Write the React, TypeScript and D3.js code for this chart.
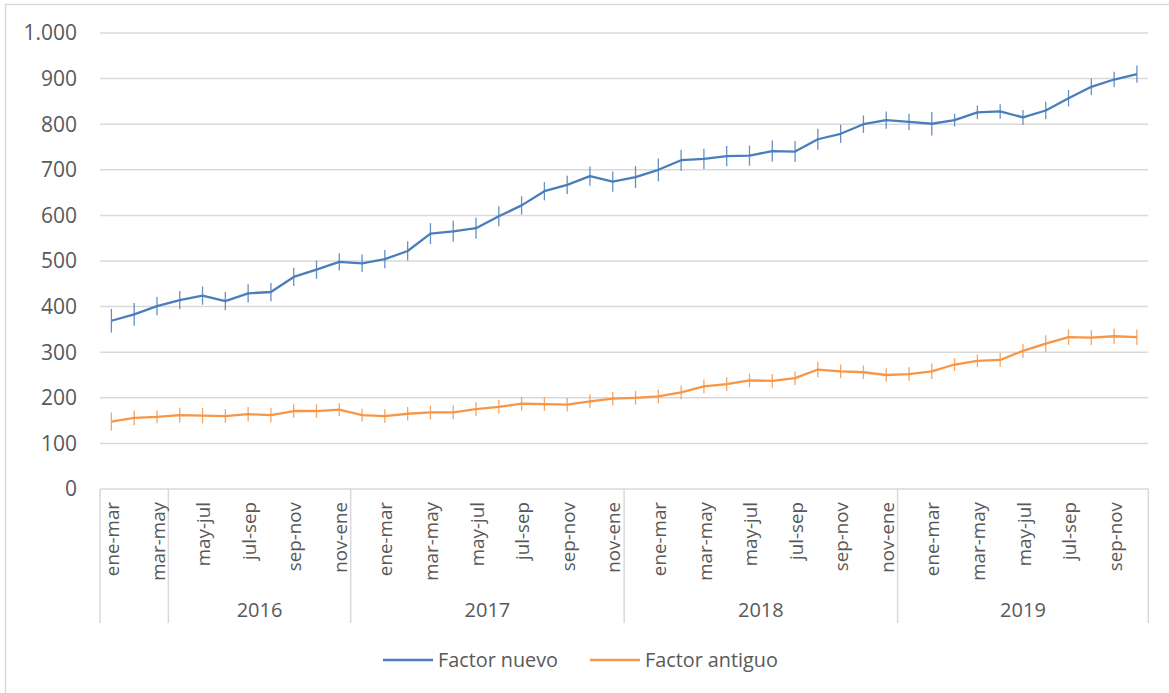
import React from 'react';
import * as d3 from 'd3';

// trimestres móviles, uno por punto
const periods = [
  'ene-mar', 'feb-abr', 'mar-may', 'abr-jun', 'may-jul', 'jun-ago', 'jul-sep', 'ago-oct', 'sep-nov', 'oct-dic', 'nov-ene',
  'dic-feb', 'ene-mar', 'feb-abr', 'mar-may', 'abr-jun', 'may-jul', 'jun-ago', 'jul-sep', 'ago-oct', 'sep-nov', 'oct-dic', 'nov-ene',
  'dic-feb', 'ene-mar', 'feb-abr', 'mar-may', 'abr-jun', 'may-jul', 'jun-ago', 'jul-sep', 'ago-oct', 'sep-nov', 'oct-dic', 'nov-ene',
  'dic-feb', 'ene-mar', 'feb-abr', 'mar-may', 'abr-jun', 'may-jul', 'jun-ago', 'jul-sep', 'ago-oct', 'sep-nov', 'oct-dic',
];
const groupYears = ['', '2016', '2017', '2018', '2019'];
const groupSizes = [3, 8, 12, 12, 11];

const factorNuevo = [
  369, 383, 401, 414, 424, 412, 429, 432, 465, 481, 498, 495, 504,
  522, 560, 565, 572, 598, 622, 653, 667, 686, 674, 684,
  700, 721, 724, 730, 731, 741, 740, 767, 779, 800, 809, 805,
  801, 809, 826, 828, 815, 830, 857, 882, 898, 910,
];
const errNuevo = [
  26, 25, 20, 20, 20, 20, 20, 20, 20, 20, 19, 19, 20,
  21, 23, 23, 23, 22, 20, 20, 20, 21, 22, 24,
  25, 23, 22, 22, 22, 23, 23, 23, 20, 19, 19, 18,
  26, 14, 15, 16, 16, 19, 18, 18, 17, 19,
];
const factorAntiguo = [
  148, 156, 158, 162, 161, 160, 164, 162, 171, 171, 174, 162, 160,
  165, 168, 168, 175, 180, 187, 186, 185, 192, 198, 200,
  203, 212, 225, 230, 238, 237, 243, 262, 258, 256, 250, 252,
  258, 273, 281, 283, 303, 319, 333, 332, 335, 333,
];
const errAntiguo = [
  20, 16, 14, 16, 17, 15, 16, 16, 15, 15, 14, 14, 15,
  15, 15, 15, 15, 15, 15, 15, 15, 15, 15, 15,
  15, 15, 15, 15, 15, 15, 15, 17, 15, 15, 15, 15,
  17, 14, 14, 15, 15, 18, 17, 16, 17, 17,
];
const yTicks = [0, 100, 200, 300, 400, 500, 600, 700, 800, 900, 1000];

const BLUE = '#4A7EBB';
const ORANGE = '#F79646';
const GRID = '#d9d9d9';
const TEXT = '#595959';
const FONT = '"Open Sans", "Liberation Sans", sans-serif';

export default function App() {
  const width = 1169, height = 693;
  const left = 100, right = 1148.3, top = 33, bottom = 489;

  const x = d3.scaleBand<number>().domain(d3.range(periods.length)).range([left, right]);
  const cx = (i: number) => (x(i) as number) + x.bandwidth() / 2;
  const y = d3.scaleLinear().domain([0, 1000]).range([bottom, top]);

  const line = d3.line<number>().x((d, i) => cx(i)).y(d => y(d));

  const fmt = (v: number) => (v >= 1000 ? d3.format(',')(v).replace(',', '.') : String(v));

  // limites de los grupos de años
  const bounds = [0];
  groupSizes.forEach(n => bounds.push(bounds[bounds.length - 1] + n));
  const bx = (k: number) => (k >= periods.length ? right : (x(k) as number));

  const series = [
    { name: 'Factor nuevo', values: factorNuevo, err: errNuevo, color: BLUE },
    { name: 'Factor antiguo', values: factorAntiguo, err: errAntiguo, color: ORANGE },
  ];

  return (
    <svg width={width} height={height} style={{ position: 'absolute', left: 0, top: 0, background: '#fff' }}
      fontFamily={FONT}>
      <rect x={5.5} y={4.5} width={width + 10} height={height + 10} fill="#fff" stroke={GRID} strokeWidth={1.5} />

      {/* grid */}
      {yTicks.map(t => (
        <g key={t}>
          <line x1={left} x2={right} y1={y(t)} y2={y(t)} stroke={GRID} strokeWidth={1.5} />
          <text x={77} y={y(t)} dy="0.35em" textAnchor="end" fontSize={21} fill={TEXT}>{fmt(t)}</text>
        </g>
      ))}

      {/* separadores de años */}
      {bounds.map((k, j) => (
        <line key={j} x1={bx(k)} x2={bx(k)} y1={bottom} y2={623} stroke={GRID} strokeWidth={1.5} />
      ))}

      {/* etiquetas de categorias */}
      {periods.map((p, i) => (i % 2 === 0 ? (
        <text key={i} transform={`translate(${cx(i) + 1},${502}) rotate(-90)`} dy="0.35em" textAnchor="end"
          fontSize={18.8} fill={TEXT}>{p}</text>
      ) : null))}

      {groupYears.map((g, j) => (
        <text key={j} x={(bx(bounds[j]) + bx(bounds[j + 1])) / 2} y={617} textAnchor="middle" fontSize={20}
          fill={TEXT}>{g}</text>
      ))}

      {/* series */}
      {series.map(s => (
        <g key={s.name}>
          <path d={line(s.values) || ''} fill="none" stroke={s.color} strokeWidth={2.3} strokeLinejoin="round" />
          {s.values.map((v, i) => (
            <line key={i} x1={cx(i)} x2={cx(i)} y1={y(v - s.err[i])} y2={y(v + s.err[i])} stroke={s.color}
              strokeWidth={1.3} opacity={0.85} />
          ))}
        </g>
      ))}

      {/* leyenda */}
      <line x1={383} x2={433} y1={660} y2={660} stroke={BLUE} strokeWidth={2.3} />
      <text x={438} y={660} dy="0.35em" fontSize={19.8} fill={TEXT}>Factor nuevo</text>
      <line x1={590} x2={640} y1={660} y2={660} stroke={ORANGE} strokeWidth={2.3} />
      <text x={645} y={660} dy="0.35em" fontSize={19.8} fill={TEXT}>Factor antiguo</text>
    </svg>
  );
}
